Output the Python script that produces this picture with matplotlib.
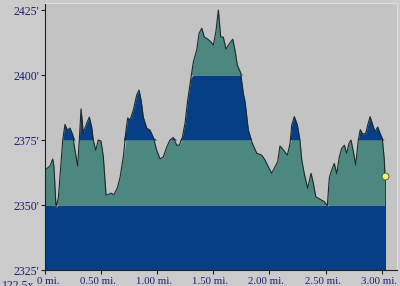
import numpy as np
import matplotlib
matplotlib.use("Agg")
import matplotlib.pyplot as plt
import matplotlib.transforms as mtransforms

# elevation profile
dist_mi = [0.000, 0.045, 0.069, 0.080, 0.098, 0.119, 0.140, 0.158, 0.178, 0.199,
           0.223, 0.247, 0.267, 0.291, 0.306, 0.321, 0.341, 0.372, 0.395, 0.416,
           0.430, 0.452, 0.475, 0.499, 0.520, 0.544, 0.564, 0.586, 0.615, 0.644,
           0.668, 0.698, 0.722, 0.737, 0.758, 0.787, 0.817, 0.838, 0.856, 0.876,
           0.906, 0.936, 0.965, 0.996, 1.025, 1.054, 1.085, 1.114, 1.143, 1.174,
           1.197, 1.224, 1.248, 1.272, 1.301, 1.322, 1.352, 1.373, 1.397, 1.420,
           1.450, 1.480, 1.500, 1.524, 1.545, 1.566, 1.589, 1.613, 1.643, 1.673,
           1.693, 1.714, 1.744, 1.767, 1.783, 1.812, 1.842, 1.887, 1.931, 1.961,
           1.990, 2.020, 2.050, 2.074, 2.094, 2.124, 2.160, 2.184, 2.199, 2.222,
           2.249, 2.273, 2.288, 2.311, 2.341, 2.371, 2.391, 2.413, 2.436, 2.460,
           2.489, 2.516, 2.534, 2.555, 2.578, 2.600, 2.623, 2.644, 2.668, 2.689,
           2.709, 2.727, 2.748, 2.769, 2.792, 2.810, 2.831, 2.858, 2.876, 2.897,
           2.921, 2.941, 2.965, 2.986, 3.006, 3.024, 3.030]
elev_ft = [2363.5, 2365.0, 2367.7, 2364.6, 2349.2, 2352.7, 2364.6, 2375.0, 2381.0, 2378.8,
           2379.6, 2377.0, 2371.0, 2365.0, 2375.0, 2387.0, 2377.7, 2381.5, 2383.8, 2380.0,
           2375.0, 2371.0, 2375.0, 2374.6, 2368.5, 2353.8, 2354.0, 2354.6, 2354.0, 2356.5,
           2360.4, 2368.5, 2378.8, 2383.5, 2382.7, 2386.5, 2392.3, 2394.2, 2390.4, 2383.8,
           2379.6, 2378.8, 2376.0, 2371.0, 2367.7, 2368.5, 2372.3, 2375.0, 2376.0, 2373.0,
           2373.0, 2376.0, 2381.5, 2390.4, 2399.0, 2405.0, 2409.6, 2416.0, 2418.0, 2414.6,
           2413.8, 2412.7, 2411.5, 2417.0, 2425.0, 2414.6, 2414.6, 2410.0, 2412.0, 2413.8,
           2409.6, 2403.8, 2400.8, 2393.0, 2389.7, 2378.8, 2374.3, 2369.9, 2369.2, 2367.3,
           2364.7, 2362.2, 2364.7, 2366.7, 2372.7, 2371.2, 2369.2, 2373.7, 2380.8, 2384.0,
           2380.8, 2374.4, 2367.3, 2362.0, 2356.4, 2362.2, 2358.5, 2353.2, 2352.6, 2352.0,
           2351.3, 2349.6, 2360.5, 2363.5, 2366.0, 2362.0, 2368.6, 2371.8, 2373.0, 2369.9,
           2373.7, 2375.0, 2370.5, 2365.4, 2375.0, 2379.0, 2377.3, 2377.5, 2380.8, 2384.0,
           2380.8, 2378.2, 2380.0, 2377.6, 2375.6, 2367.3, 2361.0]

band_edges = [2325, 2350, 2375, 2400, 2425, 2450]
band_colors = ['#063f85', '#4d8880', '#063f85', '#4d8880', '#063f85']

y_ticks = [2325, 2350, 2375, 2400, 2425]
y_labels = ["2325'", "2350'", "2375'", "2400'", "2425'"]
x_ticks = [0, 0.5, 1.0, 1.5, 2.0, 2.5, 3.0]
x_labels = ['0 mi.', '0.50 mi.', '1.00 mi.', '1.50 mi.', '2.00 mi.', '2.50 mi.', '3.00 mi.']

x = np.array(dist_mi)
y = np.array(elev_ft)

plt.rcParams['font.family'] = ['Liberation Serif', 'DejaVu Serif']

fig = plt.figure(figsize=(4.0, 2.86), dpi=100, facecolor='#cbcbcb')
ax = fig.add_axes([45/400, 16/286, 352/400, 267/286], facecolor='#c3c3c3')

# colour the area under the profile by elevation band
for lo, hi, c in zip(band_edges[:-1], band_edges[1:], band_colors):
    ax.fill_between(x, lo, np.clip(y, lo, hi), color=c, linewidth=0)

ax.plot(x, y, color='#1c2a2a', lw=0.8)
ax.plot([x[-1], x[-1]], [y[-1], band_edges[0]], color='#1c2a2a', lw=0.6)
ax.plot(x[-1], y[-1], 'o', ms=5, mfc='#f2f270', mec='#505020', mew=0.6, clip_on=False)

ax.set_xlim(0, 3.137)
ax.set_ylim(2325, 2427.7)
ax.set_yticks(y_ticks)
ax.set_yticklabels(y_labels)
ax.set_xticks(x_ticks)
ax.set_xticklabels(x_labels)
ax.tick_params(axis='both', colors='#202020', labelcolor='#1e2070', labelsize=8.5,
               length=3, width=0.8, pad=1)
ax.tick_params(axis='x', labelsize=7.8, pad=2)
for i, lbl in enumerate(ax.get_xticklabels()):
    dx = 3 if i == 0 else -3
    lbl.set_transform(lbl.get_transform() + mtransforms.ScaledTranslation(dx/100, 0, fig.dpi_scale_trans))

ax.spines['left'].set_color('#202020')
ax.spines['bottom'].set_color('#202020')
ax.spines['top'].set_color('#dcdcdc')
ax.spines['right'].set_color('#dcdcdc')

fig.text(2/400, -6/286, '122.5x', color='#1e2070', fontsize=8.5, ha='left', va='bottom')

fig.savefig('out.png', dpi=100, facecolor=fig.get_facecolor())
